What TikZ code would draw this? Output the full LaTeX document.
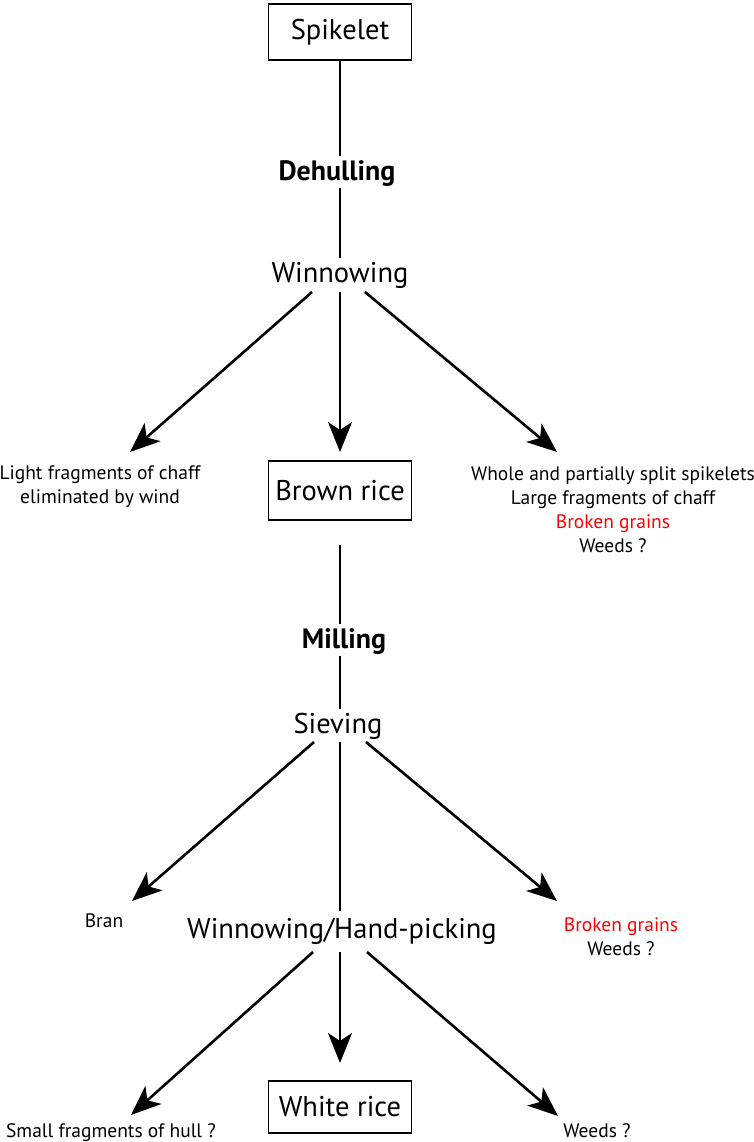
\documentclass[tikz,border=0pt]{standalone}
\usepackage{fontspec}
\setmainfont{PT Sans}
\usetikzlibrary{arrows.meta}
\definecolor{brk}{RGB}{255,0,0}
\begin{document}
\begin{tikzpicture}[x=1pt,y=-1pt,
  box/.style={draw,line width=1.2pt,minimum width=143pt,inner sep=0pt,font=\fontsize{28.5}{31}\selectfont},
  main/.style={inner sep=0pt,anchor=base,font=\fontsize{28.5}{31}\selectfont},
  stepname/.style={inner sep=0pt,anchor=base,font=\fontsize{28}{31}\selectfont\bfseries},
  small/.style={inner sep=0pt,anchor=base,align=center,font=\fontsize{19.5}{24}\selectfont},
  link/.style={line width=2.6pt},
  arr/.style={line width=2.6pt,-{Stealth[length=30pt,width=24pt,inset=8pt]}}
]
\useasboundingbox (0,0) rectangle (754,1142);
% boxes
\node[box,minimum height=56pt] (spike) at (340,32) {Spikelet};
\node[box,minimum height=59pt] (brown) at (340,490.5) {Brown rice};
\node[box,minimum height=52pt] (white) at (340,1107) {White rice};
% step labels
\node[stepname] (dehull) at (337,180) {Dehulling};
\node[main] (winnow) at (340,282) {Winnowing};
\node[stepname] (mill) at (344,648) {Milling};
\node[main] (sieve) at (338,733) {Sieving};
\node[main] (hand) at (342,938) {Winnowing/Hand-picking};
% outputs (base anchor = last line)
\node[small] (light) at (100,503) {Light fragments of chaff\\eliminated by wind};
\node[small] (whole) at (613,552) {Whole and partially split spikelets\\Large fragments of chaff\\\textcolor{brk}{Broken grains}\\Weeds ?};
\node[small] (bran) at (104,927) {Bran};
\node[small] (broken) at (621,955) {\textcolor{brk}{Broken grains}\\Weeds ?};
\node[small] (hull) at (111,1137) {Small fragments of hull ?};
\node[small] (weeds) at (597,1137) {Weeds ?};
% coordinates for arrow ends
\coordinate (w1s) at (312,292); \coordinate (w1e) at (130,452);
\coordinate (w2s) at (340,292); \coordinate (w2e) at (340,452);
\coordinate (w3s) at (365,292); \coordinate (w3e) at (557,452);
\coordinate (s1s) at (314,742); \coordinate (s1e) at (132,901);
\coordinate (s2s) at (340,742); \coordinate (s2e) at (340,911);
\coordinate (s3s) at (366,742); \coordinate (s3e) at (557,901);
\coordinate (h1s) at (313,952); \coordinate (h1e) at (131,1115);
\coordinate (h2s) at (340,952); \coordinate (h2e) at (340,1063);
\coordinate (h3s) at (367,952); \coordinate (h3e) at (558,1116);
\coordinate (b1) at (340,545); \coordinate (b2) at (340,624);
\coordinate (m1) at (340,656); \coordinate (m2) at (340,709);
\coordinate (d1) at (340,156); \coordinate (d2) at (340,188); \coordinate (d3) at (340,258);
% connectors
\draw[link] (spike.south) -- (d1);
\draw[link] (d2) -- (d3);
\draw[arr] (w1s) -- (w1e);
\draw[arr] (w2s) -- (w2e);
\draw[arr] (w3s) -- (w3e);
\draw[link] (b1) -- (b2);
\draw[link] (m1) -- (m2);
\draw[arr] (s1s) -- (s1e);
\draw[link] (s2s) -- (s2e);
\draw[arr] (s3s) -- (s3e);
\draw[arr] (h1s) -- (h1e);
\draw[arr] (h2s) -- (h2e);
\draw[arr] (h3s) -- (h3e);
\end{tikzpicture}
\end{document}
